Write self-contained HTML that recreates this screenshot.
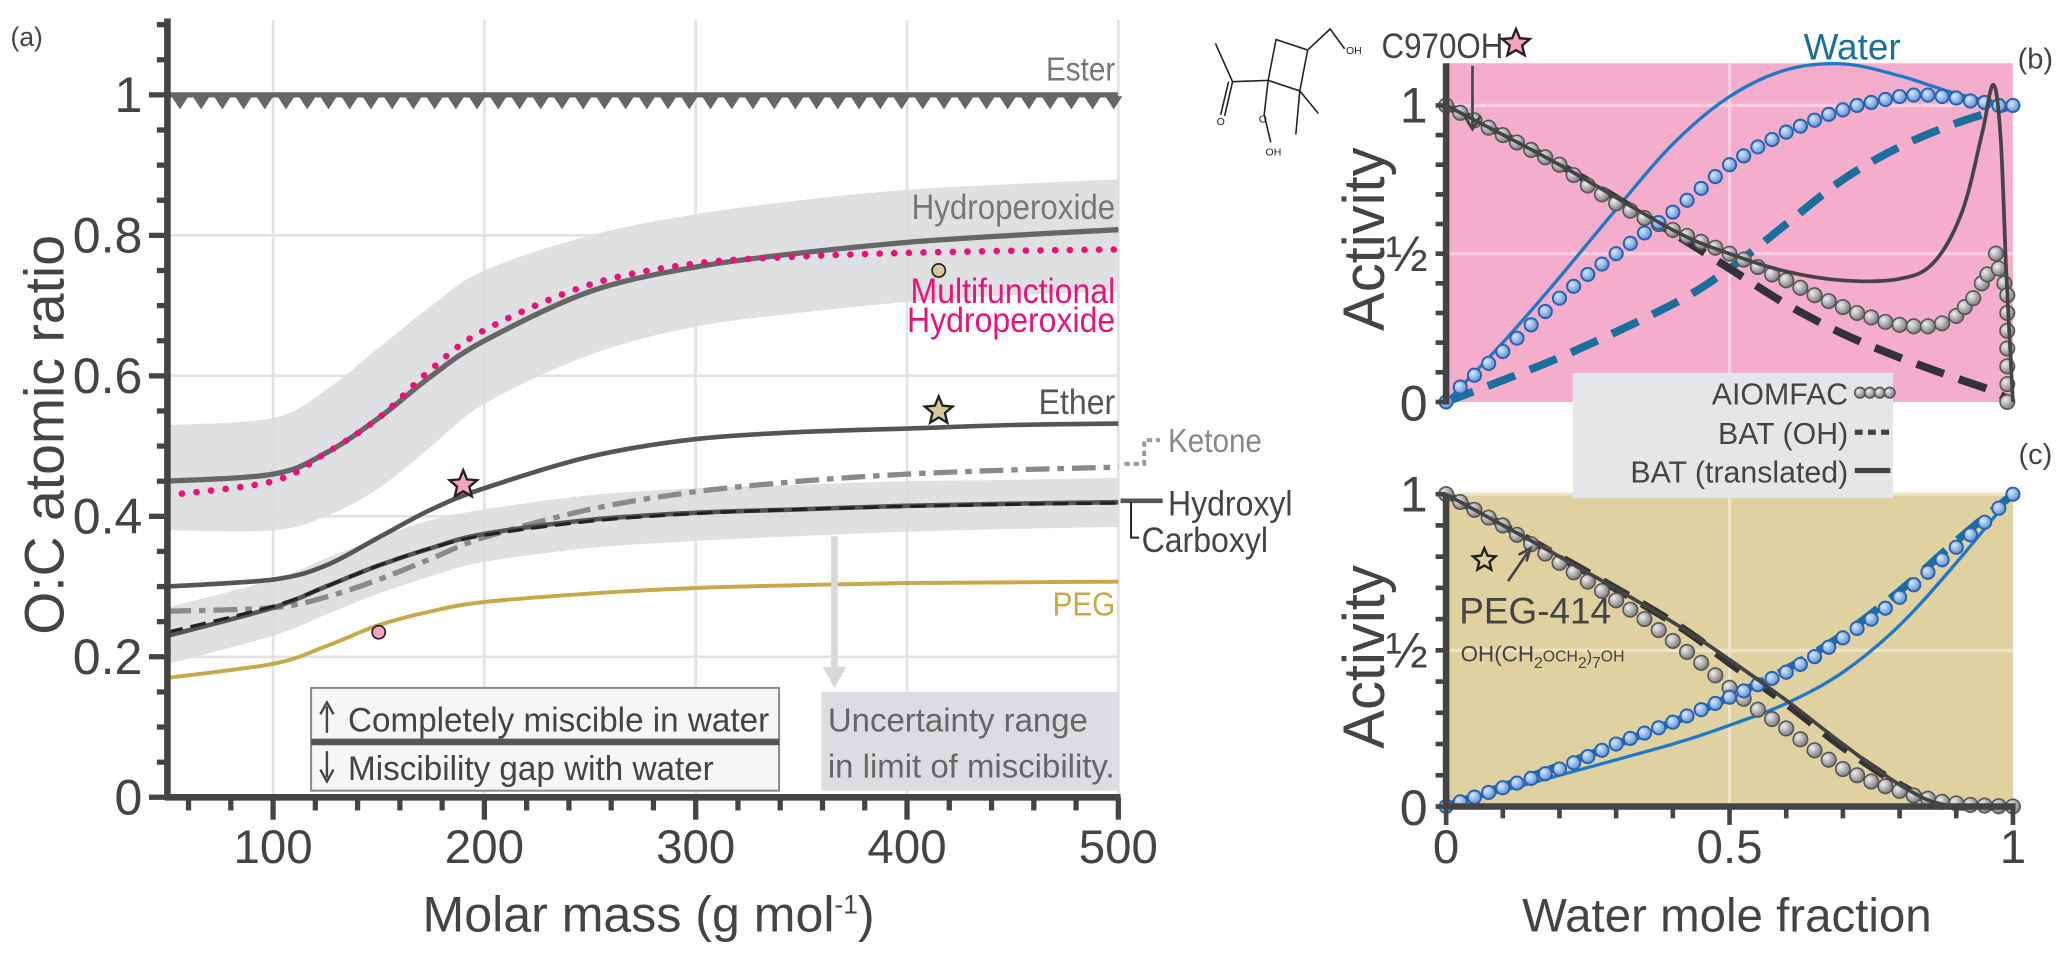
<!DOCTYPE html>
<html><head><meta charset="utf-8"><style>
html,body{margin:0;padding:0;background:#fff;}
svg{display:block;font-family:"Liberation Sans Narrow","Liberation Sans",sans-serif;}
</style></head><body>
<svg id="fig" width="2067" height="962" viewBox="0 0 1568 730" preserveAspectRatio="none" xmlns="http://www.w3.org/2000/svg">
<defs>
<radialGradient id="gball" cx="0.35" cy="0.35" r="0.7"><stop offset="0" stop-color="#eee"/><stop offset="1" stop-color="#777"/></radialGradient>
<radialGradient id="bball" cx="0.35" cy="0.35" r="0.7"><stop offset="0" stop-color="#d8e8ff"/><stop offset="1" stop-color="#5a8fd0"/></radialGradient>
</defs>
<g id="pa"></g>
<g id="pb"></g>
<g id="pc"></g>
<g id="lab"></g>
</svg>
<script>
// ---------- Panel (a) data ----------
const aX = [50,100,125,150,175,200,250,300,350,400,450,500];
const hydroperoxide = [0.45,0.46,0.49,0.54,0.60,0.65,0.72,0.755,0.775,0.79,0.80,0.808];
const hpUpper = [0.53,0.54,0.58,0.64,0.70,0.75,0.80,0.83,0.85,0.865,0.873,0.88];
const hpLower = [0.38,0.38,0.40,0.44,0.50,0.56,0.63,0.67,0.69,0.705,0.715,0.72];
const multifunctional = [0.43,0.45,0.49,0.54,0.61,0.665,0.73,0.76,0.77,0.775,0.778,0.78];
const ether = [0.30,0.31,0.33,0.37,0.41,0.44,0.485,0.51,0.52,0.525,0.53,0.532];
const ketone = [0.265,0.27,0.285,0.31,0.34,0.37,0.41,0.435,0.45,0.46,0.466,0.47];
const hydroxyl = [0.23,0.27,0.30,0.33,0.355,0.375,0.395,0.405,0.41,0.415,0.418,0.42];
const carboxyl = [0.235,0.272,0.30,0.33,0.355,0.373,0.393,0.404,0.41,0.414,0.417,0.419];
const ohUpper = [0.27,0.31,0.34,0.37,0.395,0.41,0.43,0.44,0.445,0.45,0.452,0.455];
const ohLower = [0.19,0.23,0.26,0.29,0.315,0.335,0.355,0.365,0.372,0.378,0.382,0.385];
const peg = [0.17,0.19,0.215,0.245,0.265,0.278,0.29,0.298,0.302,0.305,0.306,0.307];
const aXTicks = [100,200,300,400,500];
const aYTicks = [0,0.2,0.4,0.6,0.8,1];
const aYTickLabels = ["0","0.2","0.4","0.6","0.8","1"];
const starPoints = [[190,0.445,"#f4a3c0"],[415,0.55,"#d9c99a"]];
const circlePoints = [[415,0.75,"#d9c99a"],[150,0.235,"#f4a3c0"]];

// ---------- Panel (b) data (water mole fraction, activity) ----------
const bAiomOrg = [[0,1],[0.025,0.975],[0.05,0.95],[0.075,0.925],[0.1,0.9],[0.125,0.875],[0.15,0.85],[0.175,0.825],[0.2,0.8],[0.225,0.765],[0.25,0.73],[0.275,0.7],[0.3,0.67],[0.325,0.645],[0.35,0.62],[0.375,0.6],[0.4,0.58],[0.425,0.56],[0.45,0.54],[0.475,0.52],[0.5,0.5],[0.525,0.48],[0.55,0.455],[0.575,0.43],[0.6,0.41],[0.625,0.385],[0.65,0.36],[0.675,0.34],[0.7,0.32],[0.725,0.3],[0.75,0.285],[0.775,0.27],[0.8,0.26],[0.825,0.255],[0.85,0.255],[0.875,0.265],[0.9,0.29],[0.915,0.32],[0.93,0.35],[0.945,0.4],[0.955,0.43],[0.97,0.5],[0.975,0.45],[0.985,0.4],[0.99,0.36],[0.99,0.3],[0.99,0.24],[0.99,0.18],[0.99,0.12],[0.99,0.06],[0.99,0]];
const bAiomWat = [[0,0],[0.025,0.05],[0.05,0.09],[0.075,0.13],[0.1,0.17],[0.125,0.215],[0.15,0.26],[0.175,0.305],[0.2,0.35],[0.225,0.39],[0.25,0.43],[0.275,0.465],[0.3,0.5],[0.325,0.535],[0.35,0.57],[0.375,0.605],[0.4,0.64],[0.425,0.68],[0.45,0.72],[0.475,0.76],[0.5,0.8],[0.525,0.83],[0.55,0.86],[0.575,0.885],[0.6,0.91],[0.625,0.93],[0.65,0.95],[0.675,0.97],[0.7,0.985],[0.725,1.0],[0.75,1.01],[0.775,1.02],[0.8,1.03],[0.825,1.035],[0.85,1.035],[0.875,1.03],[0.9,1.025],[0.925,1.015],[0.95,1.01],[0.975,1.0],[1,1.0]];
const bBatOrg = [[0,1],[0.2,0.8],[0.4,0.57],[0.5,0.45],[0.6,0.33],[0.7,0.23],[0.8,0.15],[0.9,0.08],[0.96,0.04],[1,0]];
const bBatWat = [[0,0],[0.2,0.15],[0.4,0.33],[0.5,0.45],[0.6,0.6],[0.7,0.75],[0.8,0.86],[0.9,0.94],[1,1]];
const bTrOrg = [[0,1],[0.2,0.8],[0.4,0.58],[0.5,0.5],[0.6,0.44],[0.7,0.41],[0.8,0.415],[0.86,0.47],[0.91,0.64],[0.945,0.9],[0.965,1.07],[0.978,0.9],[0.988,0.45],[1,0]];
const bTrWat = [[0,0],[0.1,0.2],[0.2,0.42],[0.3,0.65],[0.4,0.87],[0.5,1.03],[0.6,1.12],[0.7,1.14],[0.8,1.1],[0.9,1.04],[1,1.0]];

// ---------- Panel (c) data ----------
const cAiomOrg = [[0,1],[0.025,0.975],[0.05,0.95],[0.075,0.925],[0.1,0.9],[0.125,0.87],[0.15,0.84],[0.175,0.81],[0.2,0.78],[0.225,0.75],[0.25,0.72],[0.275,0.69],[0.3,0.66],[0.325,0.63],[0.35,0.6],[0.375,0.565],[0.4,0.53],[0.425,0.495],[0.45,0.46],[0.475,0.42],[0.5,0.38],[0.525,0.345],[0.55,0.31],[0.575,0.28],[0.6,0.25],[0.625,0.215],[0.65,0.18],[0.675,0.15],[0.7,0.12],[0.725,0.1],[0.75,0.08],[0.775,0.065],[0.8,0.05],[0.825,0.035],[0.85,0.025],[0.875,0.015],[0.9,0.01],[0.925,0.005],[0.95,0.003],[0.975,0.001],[1,0]];
const cAiomWat = [[0,0],[0.025,0.015],[0.05,0.03],[0.075,0.045],[0.1,0.06],[0.125,0.075],[0.15,0.09],[0.175,0.105],[0.2,0.12],[0.225,0.14],[0.25,0.16],[0.275,0.18],[0.3,0.2],[0.325,0.218],[0.35,0.235],[0.375,0.252],[0.4,0.27],[0.425,0.29],[0.45,0.31],[0.475,0.33],[0.5,0.35],[0.525,0.37],[0.55,0.39],[0.575,0.41],[0.6,0.43],[0.625,0.455],[0.65,0.48],[0.675,0.51],[0.7,0.54],[0.725,0.57],[0.75,0.6],[0.775,0.635],[0.8,0.67],[0.825,0.71],[0.85,0.75],[0.875,0.79],[0.9,0.83],[0.925,0.87],[0.95,0.91],[0.975,0.955],[1,1]];
const cBatOrg = [[0,1],[0.2,0.8],[0.4,0.59],[0.5,0.46],[0.6,0.33],[0.7,0.19],[0.8,0.07],[0.88,0.005],[1,0]];
const cBatWat = [[0,0],[0.2,0.13],[0.4,0.27],[0.5,0.35],[0.6,0.44],[0.7,0.55],[0.8,0.69],[0.9,0.85],[1,1]];
const cTrOrg = [[0,1],[0.2,0.8],[0.4,0.59],[0.5,0.47],[0.6,0.34],[0.7,0.2],[0.8,0.07],[0.88,0.005],[1,0]];
const cTrWat = [[0,0],[0.2,0.1],[0.4,0.2],[0.5,0.26],[0.6,0.33],[0.7,0.43],[0.8,0.58],[0.9,0.78],[1,1]];

const NS="http://www.w3.org/2000/svg";
function mk(parent,tag,attrs){const e=document.createElementNS(NS,tag);for(const k in attrs)e.setAttribute(k,attrs[k]);parent.appendChild(e);return e;}
function smooth(pts){let d="M"+pts[0][0].toFixed(1)+","+pts[0][1].toFixed(1);
 for(let i=0;i<pts.length-1;i++){const p0=pts[Math.max(i-1,0)],p1=pts[i],p2=pts[i+1],p3=pts[Math.min(i+2,pts.length-1)];
 const c1=[p1[0]+(p2[0]-p0[0])/6,p1[1]+(p2[1]-p0[1])/6],c2=[p2[0]-(p3[0]-p1[0])/6,p2[1]-(p3[1]-p1[1])/6];
 d+="C"+c1[0].toFixed(1)+","+c1[1].toFixed(1)+" "+c2[0].toFixed(1)+","+c2[1].toFixed(1)+" "+p2[0].toFixed(1)+","+p2[1].toFixed(1);}
 return d;}
function txt(parent,x,y,s,size,fill,anchor,rot,k){
 k=k||1;
 const tr=(rot?"translate("+x+","+y+") rotate(-90)":"translate("+x+","+y+")")+(k!==1?" scale("+k+",1)":"");
 const t=mk(parent,"text",{x:0,y:0,transform:tr,"font-size":size,fill:fill,"text-anchor":anchor||"start"});t.textContent=s;return t;}

// ================= Panel A =================
const pa=document.getElementById("pa");
const ax=v=>127+(v-50)*1.603, ay=v=>605-533*v;
for(const v of aXTicks){const l=mk(pa,"line",{x1:ax(v),x2:ax(v),y1:15,y2:605,stroke:"#e2e2e2","stroke-width":2});

}
for(const v of aYTicks.slice(1)){const l=mk(pa,"line",{x1:127,x2:848,y1:ay(v),y2:ay(v),stroke:"#e2e2e2","stroke-width":2});

}
function band(up,lo,name){const pu=aX.map((x,i)=>[ax(x),ay(up[i])]),pl=aX.map((x,i)=>[ax(x),ay(lo[i])]).reverse();
 const d=smooth(pu)+"L"+smooth(pl).slice(1)+"Z";const p=mk(pa,"path",{d:d,fill:"#dcdddf","fill-opacity":0.9});
 
 }
band(hpUpper,hpLower,'hydroperoxide-uncertainty-band');
band(ohUpper,ohLower,'hydroxyl-uncertainty-band');
function aline(arr,attrs,name){const p=mk(pa,"path",Object.assign({d:smooth(aX.map((x,i)=>[ax(x),ay(arr[i])])),fill:"none"},attrs));
 
 return p;}
aline(peg,{stroke:"#c8a84a","stroke-width":3},'peg-line');
aline(ketone,{stroke:"#8a8a8a","stroke-width":4,"stroke-dasharray":"18 6 5 6"},'ketone-line');
aline(hydroxyl,{stroke:"#555","stroke-width":3.5},'hydroxyl-line');
aline(carboxyl,{stroke:"#222","stroke-width":2.5,"stroke-dasharray":"12 6"},'carboxyl-line');
aline(ether,{stroke:"#555","stroke-width":3.5},'ether-line');
aline(hydroperoxide,{stroke:"#666","stroke-width":4},'hydroperoxide-line');
aline(multifunctional,{stroke:"#e8127c","stroke-width":5,"stroke-dasharray":"0.1 11","stroke-linecap":"round"},'multifunctional-hydroperoxide-line');
{const l=mk(pa,"line",{x1:127,x2:848,y1:ay(1),y2:ay(1),stroke:"#666","stroke-width":4});


let d="";for(let x=130;x<846;x+=16.1){d+="M"+x+","+(ay(1)+1)+"l13,0l-6.5,10z";}
const t=mk(pa,"path",{d:d,fill:"#666"});

}
function starPath(cx,cy,R){let d="";for(let i=0;i<10;i++){const r=i%2?R*0.45:R,a=-Math.PI/2+i*Math.PI/5;d+=(i?"L":"M")+(cx+r*Math.cos(a)).toFixed(1)+","+(cy+r*Math.sin(a)).toFixed(1);}return d+"Z";}
for(const s of starPoints){const p=mk(pa,"path",{d:starPath(ax(s[0]),ay(s[1]),11),fill:s[2],stroke:"#222","stroke-width":1.8});

}
for(const c of circlePoints){const p=mk(pa,"circle",{cx:ax(c[0]),cy:ay(c[1]),r:5,fill:c[2],stroke:"#222","stroke-width":1.3});

}
{const g=mk(pa,"g",{});
mk(g,"line",{x1:127,x2:127,y1:14,y2:607,stroke:"#444","stroke-width":5});
for(let v=0;v<=1.1001;v+=0.05){const maj=Math.abs(v*5-Math.round(v*5))<1e-6;mk(g,"line",{x1:maj?113:119,x2:127,y1:ay(v),y2:ay(v),stroke:"#444","stroke-width":4});}
aYTicks.forEach((v,i)=>txt(g,108,ay(v)+13,aYTickLabels[i],38,"#444","end"));
const g2=mk(pa,"g",{});
mk(g2,"line",{x1:125,x2:850,y1:605,y2:605,stroke:"#444","stroke-width":5});
for(let v=60;v<=500;v+=20){const maj=v%100===0;mk(g2,"line",{x1:ax(v),x2:ax(v),y1:605,y2:maj?622:615,stroke:"#444","stroke-width":4});}
aXTicks.forEach(v=>txt(g2,ax(v),655,String(v),36,"#444","middle"));}
{const t=txt(pa,492,707,"Molar mass (g mol",38,"#444","middle");
 const s=mk(t,"tspan",{"font-size":20,dy:-14});s.textContent="-1";const s2=mk(t,"tspan",{dy:14});s2.textContent=")";}
{const t=txt(pa,48,330,"O:C atomic ratio",42,"#444","middle",true);}
txt(pa,8,35,"(a)",20,"#444","start");
txt(pa,846,61,"Ester",25,"#777","end",false,0.9);
txt(pa,846,166,"Hydroperoxide",27,"#777","end",false,0.88);
txt(pa,846,230,"Multifunctional",27,"#e8127c","end",false,0.9);
txt(pa,846,252,"Hydroperoxide",27,"#e8127c","end",false,0.9);
txt(pa,846,314,"Ether",27,"#555","end",false,0.9);
txt(pa,886,343,"Ketone",25,"#888","start",false,0.9);
mk(pa,"path",{d:"M853,352 L868,352 L868,334 L880,334",fill:"none",stroke:"#999","stroke-width":3,"stroke-dasharray":"4 3"});
txt(pa,886,391,"Hydroxyl",27,"#444","start",false,0.9);
mk(pa,"line",{x1:850,x2:882,y1:380,y2:380,stroke:"#555","stroke-width":3.5});
mk(pa,"path",{d:"M858,381 L858,408 L864,408",fill:"none",stroke:"#222","stroke-width":1.5});
txt(pa,866,419,"Carboxyl",27,"#444","start",false,0.9);
txt(pa,846,467,"PEG",25,"#c8a84a","end",false,0.9);
{const g=mk(pa,"g",{});
mk(g,"rect",{x:236,y:522,width:355,height:78,fill:"#f6f6f6",stroke:"#888","stroke-width":1.5});
mk(g,"line",{x1:236,x2:591,y1:563,y2:563,stroke:"#555","stroke-width":5});
mk(g,"path",{d:"M248,556 L248,536 M243,542 L248,533 L253,542",fill:"none",stroke:"#444","stroke-width":1.8});
mk(g,"path",{d:"M248,570 L248,590 M243,584 L248,593 L253,584",fill:"none",stroke:"#444","stroke-width":1.8});
txt(g,264,555,"Completely miscible in water",26,"#444","start",false,0.97);
txt(g,264,592,"Miscibility gap with water",26,"#444","start",false,0.97);}
{const g=mk(pa,"g",{});
mk(g,"rect",{x:623,y:525,width:226,height:75,fill:"#dcdde0"});
txt(g,628,555,"Uncertainty range",25,"#666");
txt(g,628,590,"in limit of miscibility.",25,"#666");
mk(g,"line",{x1:633,x2:633,y1:407,y2:510,stroke:"#d8d8d8","stroke-width":5});
mk(g,"path",{d:"M624,506 L642,506 L633,522Z",fill:"#d8d8d8"});}

// ================= Panels B & C =================
function panel(id,top,y0,y1px,bg,gridc,org,wat,batOrg,batWat,trOrg,trWat,showXAxis){
 const g=document.getElementById(id);
 const px=v=>1097+430*v, py=v=>y0-(y0-y1px)*v;
 const r=mk(g,"rect",{x:1097,y:top,width:430,height:y0-top,fill:bg});
 
 
 mk(g,"line",{x1:px(0.5),x2:px(0.5),y1:top,y2:y0,stroke:gridc,"stroke-width":2.5});
 for(const v of [0.5,1]){mk(g,"line",{x1:1097,x2:1527,y1:py(v),y2:py(v),stroke:gridc,"stroke-width":2.5});}
 const P=a=>a.map(p=>[px(p[0]),py(p[1])]);
 let e;
 e=mk(g,"path",{d:smooth(P(trWat)),fill:"none",stroke:"#1f78c8","stroke-width":2.5});
 
 
 e=mk(g,"path",{d:smooth(P(batWat)),fill:"none",stroke:"#1a6f9e","stroke-width":6,"stroke-dasharray":"22 12"});
 
 
 e=mk(g,"path",{d:smooth(P(batOrg)),fill:"none",stroke:"#333","stroke-width":6,"stroke-dasharray":"22 12"});
 
 
 for(const p of org){const c=mk(g,"circle",{cx:px(p[0]),cy:py(p[1]),r:5.5,fill:"url(#gball)",stroke:"#555","stroke-width":1.2});
 
 }
 for(const p of wat){const c=mk(g,"circle",{cx:px(p[0]),cy:py(p[1]),r:5,fill:"url(#bball)",stroke:"#2a62b0","stroke-width":1.5});
 
 }
 e=mk(g,"path",{d:smooth(P(trOrg)),fill:"none",stroke:"#444","stroke-width":2.8});
 
 
 const ya=mk(g,"g",{});
 mk(ya,"line",{x1:1097,x2:1097,y1:top,y2:y0+2,stroke:"#444","stroke-width":5});
 for(let v=0;v<=1.001;v+=0.1){mk(ya,"line",{x1:1089,x2:1097,y1:py(v),y2:py(v),stroke:"#444","stroke-width":3.5});}
 txt(ya,1083,py(1)+13,"1",38,"#444","end");txt(ya,1083,py(0.5)+13,"½",38,"#444","end");txt(ya,1083,py(0)+14,"0",38,"#444","end");
 const t=txt(g,1050,(y0+top)/2+5,"Activity",44,"#444","middle",true);
 
 if(showXAxis){const xa=mk(g,"g",{});
 mk(xa,"line",{x1:1095,x2:1529,y1:y0,y2:y0,stroke:"#444","stroke-width":5});
 for(let v=0;v<=1.001;v+=0.1){const maj=Math.abs(v-0.5)<1e-6||v<1e-6||v>0.999;mk(xa,"line",{x1:px(v),x2:px(v),y1:y0,y2:y0+(maj?14:9),stroke:"#444","stroke-width":3.5});}
 txt(xa,px(0),655,"0",36,"#444","middle");txt(xa,px(0.5),655,"0.5",36,"#444","middle");txt(xa,px(1),655,"1",36,"#444","middle");
 txt(g,1310,707,"Water mole fraction",36,"#444","middle");}
}
panel("pb",48,305,80,"#f4adca","#f7cfe0",bAiomOrg,bAiomWat,bBatOrg,bBatWat,bTrOrg,bTrWat,false);
panel("pc",375,612,375,"#dfd1a0","#eee4c8",cAiomOrg,cAiomWat,cBatOrg,cBatWat,cTrOrg,cTrWat,true);

// ---------- annotations ----------
const lab=document.getElementById("lab");
{const g=mk(lab,"g",{});
mk(g,"rect",{x:1193,y:283,width:243,height:95,fill:"#e6e6e8"});
txt(g,1402,307,"AIOMFAC",23,"#444","end");
for(let i=0;i<4;i++)mk(g,"circle",{cx:1411+i*7.5,cy:298,r:4,fill:"url(#gball)",stroke:"#555","stroke-width":1.2});
txt(g,1402,337,"BAT (OH)",23,"#444","end");
mk(g,"line",{x1:1407,x2:1434,y1:328,y2:328,stroke:"#444","stroke-width":4,"stroke-dasharray":"6 4"});
txt(g,1402,366,"BAT (translated)",23,"#444","end");
mk(g,"line",{x1:1407,x2:1434,y1:357,y2:357,stroke:"#444","stroke-width":4});}
txt(lab,1544,52,"(b)",22,"#444","middle");
txt(lab,1544,352,"(c)",22,"#444","middle");
txt(lab,1405,45,"Water",28,"#1a6f9e","middle");
txt(lab,1048,44,"C970OH",27,"#444","start",false,0.88);
mk(lab,"path",{d:starPath(1150,33,11),fill:"#f4a3c0",stroke:"#222","stroke-width":1.8});
mk(lab,"path",{d:"M1117,50 L1117,96 M1111,88 L1117,98 L1123,88",fill:"none",stroke:"#444","stroke-width":2});
{const g=mk(lab,"g",{});
mk(g,"path",{d:"M922,33 L935,62 L929,88 M932,62 L926,87 M935,62 L962,61 L968,30 L992,38 L986,69 L962,61 M992,38 L1009,22 L1020,37 M986,69 L1000,86 M986,69 L983,102 M962,61 L959,87 L964,108",fill:"none",stroke:"#222","stroke-width":1.2});
txt(g,926,95,"O",8,"#222","middle");txt(g,958,93,"O",8,"#222","middle");txt(g,966,118,"OH",8,"#222","middle");txt(g,1027,41,"OH",8,"#222","middle");}
mk(lab,"path",{d:starPath(1126,425,9),fill:"none",stroke:"#222","stroke-width":1.8});
mk(lab,"path",{d:"M1144,441 L1159,419 M1152,421 L1161,416 L1158,426",fill:"none",stroke:"#444","stroke-width":2});
txt(lab,1107,473,"PEG-414",28,"#444","start");
{const t=txt(lab,1108,502,"OH(CH",17,"#444","start");
 const a=(s,sub)=>{const ts=mk(t,"tspan",sub?{"font-size":12,dy:sub}:{});ts.textContent=s;};
 a("2",5);a("OCH",-5);a("2",5);a(")",-5);a("7",5);a("OH",-5);}
</script>
</body></html>
